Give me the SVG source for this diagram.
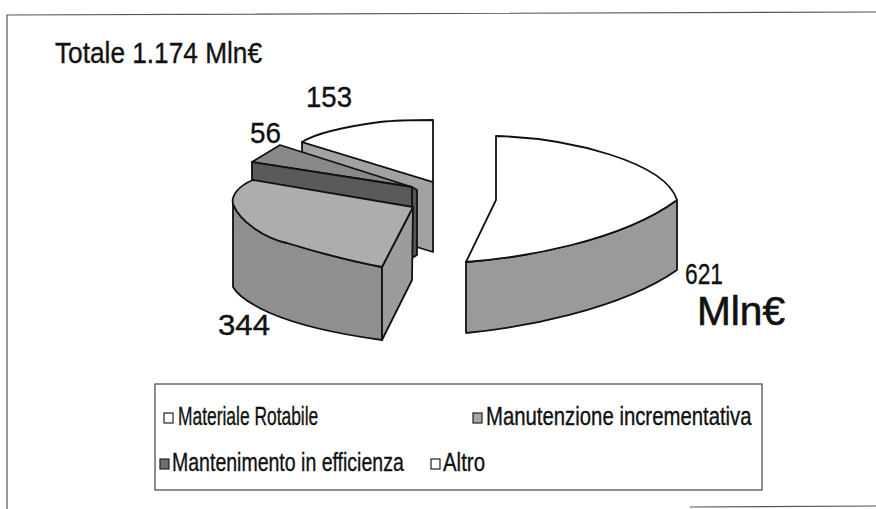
<svg xmlns="http://www.w3.org/2000/svg" width="876" height="509" viewBox="0 0 876 509">
<style>
  text { font-family: "Liberation Sans", Arial, sans-serif; fill: #111; stroke: #111; stroke-width: 0.35; }
  .lbl { font-size: 30px; }
  .leg { font-size: 26px; }
  .ol { stroke: #111; stroke-width: 1.8; stroke-linejoin: round; }
  .frame { fill: none; stroke: #555; stroke-width: 1.2; }
  .mk { stroke: #222; stroke-width: 1.2; }
</style>
<rect width="876" height="509" fill="#fff"/>
<g id="frame">
  <polyline class="frame" points="876,12 7,15 7,509"/>
  <line class="frame" x1="690" y1="507" x2="876" y2="506"/>
</g>
<g id="title"><text class="lbl" x="55" y="63" textLength="207" lengthAdjust="spacingAndGlyphs">Totale 1.174 Mln€</text></g>

<g id="slice-altro">
  <path class="ol" fill="#a2a2a2" d="M302,142 L433,182 L433,252 L302,212 Z"/>
  <path class="ol" fill="#fff" d="M302,142 C318,132 350,126 380,122 C398,120 415,120 433,120 L433,182 Z"/>
</g>
<g id="slice-mantenimento">
  <path class="ol" fill="#888" d="M252,162 L280,145 L412,187 Z"/>
  <path class="ol" fill="#5a5a5a" d="M252,162 L412,187 L412,208 L252,181 Z"/>
  <path class="ol" fill="#555" d="M412,187 L417,190 L417,255 L412,258 Z"/>
</g>
<g id="slice-manutenzione">
  <path class="ol" fill="#8f8f8f" d="M233,204 C240,222 265,238 287,243 C310,250 345,260 382,267 L382,340 C345,335 300,326 270,313 C250,304 238,296 233,287 Z"/>
  <path class="ol" fill="#9c9c9c" d="M382,267 L413,207 L412,280 L382,340 Z"/>
  <path class="ol" fill="#adadad" d="M253,180 L413,207 L382,267 C345,260 310,250 287,243 C265,238 240,222 233,204 C231,196 238,186 253,180 Z"/>
</g>
<g id="slice-rotabile">
  <path class="ol" fill="#9a9a9a" d="M466,262 C520,258 620,242 677,200 L677,270 C620,310 520,328 466,333 Z"/>
  <path class="ol" fill="#fff" d="M496,136 C570,138 665,162 677,200 C620,242 520,258 466,262 L496,200 Z"/>
</g>

<g id="values">
  <text class="lbl" x="306" y="107" textLength="46" lengthAdjust="spacingAndGlyphs">153</text>
  <text class="lbl" x="250" y="143" textLength="31" lengthAdjust="spacingAndGlyphs">56</text>
  <text class="lbl" x="218" y="335" textLength="52" lengthAdjust="spacingAndGlyphs">344</text>
  <text class="lbl" x="685" y="284" textLength="38" lengthAdjust="spacingAndGlyphs">621</text>
  <text x="697" y="325" style="font-size:40px; stroke-width:0.6" textLength="88" lengthAdjust="spacingAndGlyphs">Mln€</text>
</g>

<g id="legend">
  <rect x="155" y="384" width="607" height="106" fill="none" stroke="#444" stroke-width="1.2"/>
  <rect class="mk" x="164" y="413" width="9" height="10" fill="#fff"/>
  <text class="leg" transform="translate(178,425) scale(0.75,1)" textLength="187" lengthAdjust="spacingAndGlyphs">Materiale Rotabile</text>
  <rect class="mk" x="473" y="413" width="9" height="10" fill="#a8a8a8"/>
  <text class="leg" transform="translate(486,425) scale(0.8,1)" textLength="332" lengthAdjust="spacingAndGlyphs">Manutenzione incrementativa</text>
  <rect class="mk" x="160" y="459" width="9" height="10" fill="#6e6e6e"/>
  <text class="leg" transform="translate(172,471) scale(0.75,1)" textLength="309" lengthAdjust="spacingAndGlyphs">Mantenimento in efficienza</text>
  <rect class="mk" x="431" y="459" width="9" height="10" fill="#fff"/>
  <text class="leg" transform="translate(443,471) scale(0.75,1)" textLength="56" lengthAdjust="spacingAndGlyphs">Altro</text>
</g>
</svg>
